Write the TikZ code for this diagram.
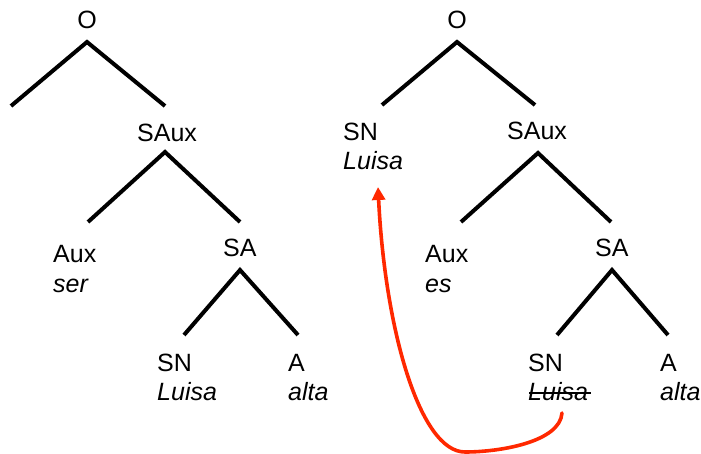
\documentclass[tikz,border=0pt]{standalone}
\usepackage{fontspec}
\setmainfont{Liberation Sans}
\usetikzlibrary{arrows.meta}
\definecolor{moveRed}{RGB}{255,40,0}
\tikzset{
  % two-line labels: the base anchor sits on the lower line
  cat/.style={anchor=base west, inner sep=0pt, align=left,
              font=\fontsize{25}{29}\selectfont},
  root/.style={anchor=base, inner sep=0pt, font=\fontsize{25}{29}\selectfont},
  branch/.style={line width=4pt, line cap=butt, line join=miter},
  movement/.style={moveRed, line width=3.6pt, line cap=round,
                   -{Triangle[length=13pt,width=13pt]}},
  strike/.style={line width=1.3pt}
}
\begin{document}
\begin{tikzpicture}[x=1pt,y=-1pt]
\useasboundingbox (0,0) rectangle (701,454);

% ---- first tree: O -> [ ] SAux ; SAux -> Aux SA ; SA -> SN A
\node[root] (oL) at (87,29) {O};
\node[cat] (sauxL) at (137,142) {SAux};
\node[cat] (auxL) at (53,292) {Aux\\\textit{ser}};
\node[cat] (saL) at (223,257) {SA};
\node[cat] (snL) at (157,400) {SN\\\textit{Luisa}};
\node[cat] (aL) at (288,400) {A\\\textit{alta}};

\coordinate (oLtop) at (87,42);
\coordinate (oLl) at (11,106);
\coordinate (oLr) at (165,106);
\coordinate (sauxLtop) at (165,152);
\coordinate (sauxLl) at (88,222);
\coordinate (sauxLr) at (240,222);
\coordinate (saLtop) at (240,270);
\coordinate (saLl) at (184,335);
\coordinate (saLr) at (298,335);

\draw[branch] (oLl) -- (oLtop) -- (oLr);
\draw[branch] (sauxLl) -- (sauxLtop) -- (sauxLr);
\draw[branch] (saLl) -- (saLtop) -- (saLr);

% ---- second tree: O -> SN SAux ; SAux -> Aux SA ; SA -> SN A
\node[root] (oR) at (457,29) {O};
\node[cat] (snR) at (343,170) {SN\\\textit{Luisa}};
\node[cat] (sauxR) at (507,140) {SAux};
\node[cat] (auxR) at (425,292) {Aux\\\textit{es}};
\node[cat] (saR) at (595,257) {SA};
\node[cat] (snT) at (528,400) {SN\\\textit{Luisa}};
\node[cat] (aR) at (660,400) {A\\\textit{alta}};

\coordinate (oRtop) at (457,42);
\coordinate (oRl) at (382,105);
\coordinate (oRr) at (535,105);
\coordinate (sauxRtop) at (538,153);
\coordinate (sauxRl) at (461,222);
\coordinate (sauxRr) at (611,222);
\coordinate (saRtop) at (612,270);
\coordinate (saRl) at (557,335);
\coordinate (saRr) at (668,335);

\draw[branch] (oRl) -- (oRtop) -- (oRr);
\draw[branch] (sauxRl) -- (sauxRtop) -- (sauxRr);
\draw[branch] (saRl) -- (saRtop) -- (saRr);

% trace: struck-out copy of the moved subject
\coordinate (strikeA) at (529,393);
\coordinate (strikeB) at (591,393);
\draw[strike] (strikeA) -- (strikeB);

% movement arrow from the trace up to the raised subject
\coordinate (traceFoot) at (562,413);
\coordinate (arcLow) at (465,452);
\coordinate (landing) at (378,187);
\draw[movement] (traceFoot)
  .. controls (560,442) and (500,452) .. (arcLow)
  .. controls (420,452) and (385,330) .. (landing);
\end{tikzpicture}
\end{document}
